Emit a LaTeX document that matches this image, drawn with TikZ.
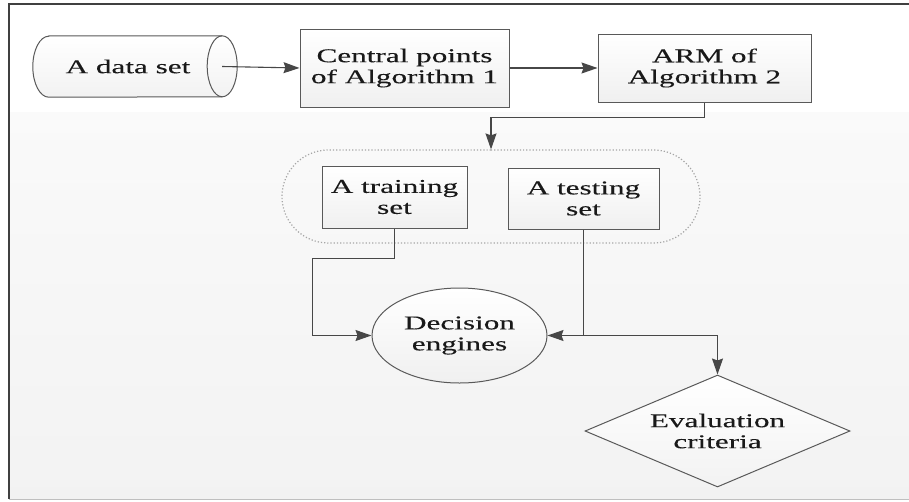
\documentclass[tikz,border=0pt]{standalone}
\usepackage{fontspec}
\setmainfont{Liberation Serif}[FakeStretch=1.6,FakeBold=0.2]
\usepackage{tikz}
\usetikzlibrary{shapes.geometric,shapes.misc,arrows.meta}

\begin{document}
\begin{tikzpicture}[x=1pt,y=-1pt]
    \tikzset{
    every node/.style={font=\fontsize{19.5}{21}\selectfont,align=center,inner sep=0pt,text=black!90},
    box/.style={rectangle,draw=black!65,line width=1pt,top color=white,bottom color=gray!12},
    drumline/.style={draw=black!65,line width=1pt},
    engine/.style={ellipse,draw=black!65,line width=1pt,top color=white,bottom color=gray!12},
    judge/.style={diamond,draw=black!65,line width=1pt,top color=white,bottom color=gray!10},
    group/.style={rounded rectangle,draw=gray!70,dotted,line width=1.2pt},
    flow/.style={-{Stealth[length=16pt,width=11pt,inset=2pt]},draw=black!72,line width=1.1pt},
    }
    \useasboundingbox (0,0) rectangle (909,501);
    % backdrop
    \fill[white] (9,4) rectangle (909,112);
    \shade[top color=gray!4,bottom color=gray!10] (9,112) rectangle (909,499);
    \draw[black!75,line width=1.2pt] (909,4) -- (9,4) -- (9,499);
    \draw[gray!50,line width=1pt] (9,499) -- (909,499);

    % drum outline around the data set
    \node[minimum width=204,minimum height=61] (data) at (135,66.5) {};
    \draw[drumline,top color=white,bottom color=gray!10]
        ([xshift=16]data.north west) -- ([xshift=-15]data.north east)
        arc[start angle=90,end angle=-90,x radius=15pt,y radius=30.5pt]
        -- ([xshift=16]data.south west)
        arc[start angle=270,end angle=90,x radius=16pt,y radius=30.5pt] -- cycle;
    \draw[drumline] ([xshift=-15]data.north east)
        arc[start angle=90,end angle=270,x radius=15pt,y radius=30.5pt];
    \node at ([xshift=-7]data.center) {A data set};

    \node[box,minimum width=209,minimum height=78] (central) at (404.5,68) {Central points\\of Algorithm 1};
    \node[box,minimum width=213,minimum height=68] (arm) at (704.5,68) {ARM of\\Algorithm 2};

    \node[group,minimum width=418,minimum height=93] (split) at (491,196.5) {};
    \node[box,minimum width=145,minimum height=62] (train) at (394.5,197) {A training\\set};
    \node[box,minimum width=151,minimum height=61] (test) at (583.5,198.5) {A testing\\set};

    \node[engine,minimum width=175,minimum height=95] (engine) at (459.5,335.5) {Decision\\engines};
    \node[judge,minimum width=265,minimum height=112,aspect=2.37] (judge) at (717.5,431) {Evaluation\\criteria};

    \draw[flow] ([xshift=-15]data.east) -- (central.west);
    \draw[flow] (central.east) -- (arm.west);
    \draw[flow] (arm.south) -- ++(0,15) -| (split.north);
    \draw[flow] (train.south) -- ++(0,30) -- ++(-82,0) |- (engine.west);
    \draw[flow] (test.south) |- (engine.east);
    \draw[flow] (test.south |- engine.east) -| (judge.north);
\end{tikzpicture}
\end{document}
